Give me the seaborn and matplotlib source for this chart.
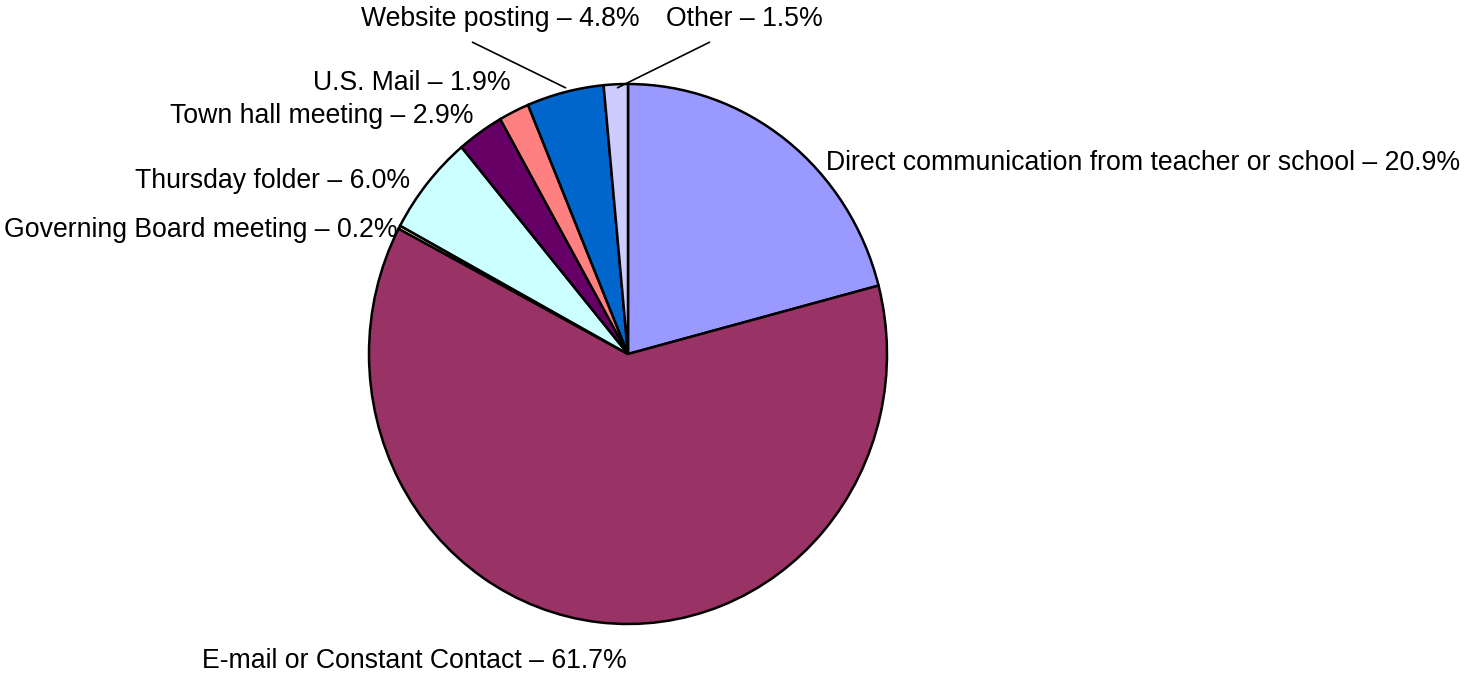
import matplotlib
matplotlib.use('Agg')
import matplotlib.pyplot as plt
import seaborn as sns

sns.set_theme(style='white')
plt.rcParams['font.family'] = ['Liberation Sans', 'DejaVu Sans']

# data (clockwise from 12 o'clock)
labels = ['Direct communication from teacher or school', 'E-mail or Constant Contact',
          'Governing Board meeting', 'Thursday folder', 'Town hall meeting',
          'U.S. Mail', 'Website posting', 'Other']
shares = [20.9, 61.7, 0.2, 6.0, 2.9, 1.9, 4.8, 1.5]
colors = ['#9999FF', '#993366', '#FFFFCC', '#CCFFFF', '#660066', '#FF8080', '#0066CC', '#CCCCFF']

W, H = 1478, 673
cx, cy, RX, RY = 628, 354, 259, 270  # pie is slightly taller than wide


def px(x, y):
    # pixel position -> data coords (pie radius 1 at centre 0,0)
    return (x - cx) / RX, (cy - y) / RY


fig = plt.figure(figsize=(W / 100, H / 100), dpi=100)
ax = fig.add_axes([0, 0, 1, 1])
ax.pie(shares, colors=colors, startangle=90, counterclock=False, radius=1,
       wedgeprops=dict(edgecolor='black', linewidth=1.8))
ax.set_xlim(px(0, 0)[0], px(W, 0)[0])
ax.set_ylim(px(0, H)[1], px(0, 0)[1])
ax.set_aspect('auto')
ax.axis('off')

fs = 19.2
# label positions in pixels: (x, y, ha)
pos = [(826, 163, 'left'), (627, 661, 'right'), (398, 230, 'right'),
       (410, 181, 'right'), (474, 116, 'right'), (511, 83, 'right'),
       (640, 19, 'right'), (666, 19, 'left')]
for lab, v, (x, y, ha) in zip(labels, shares, pos):
    ax.text(*px(x, y), f'{lab} \u2013 {v:.1f}%', ha=ha, va='center', fontsize=fs, color='black')

# leader lines
ax.annotate('', xy=px(568, 89), xytext=px(470, 41),
            arrowprops=dict(arrowstyle='-', color='black', lw=1.2))
ax.annotate('', xy=px(615, 89), xytext=px(712, 41),
            arrowprops=dict(arrowstyle='-', color='black', lw=1.2))

fig.savefig('out.png', dpi=100, facecolor='white')
